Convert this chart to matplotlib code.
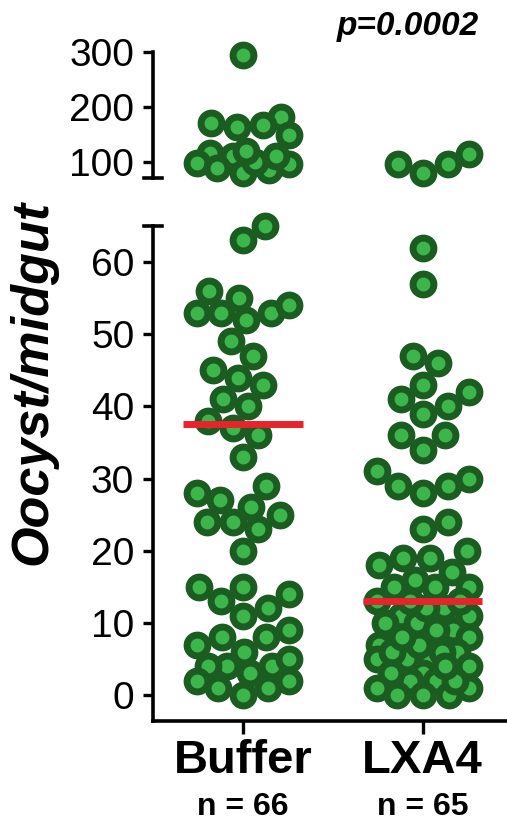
import matplotlib
matplotlib.use("Agg")
import matplotlib.pyplot as plt
import matplotlib.transforms as mtransforms
import numpy as np

plt.rcParams['font.family'] = ['Liberation Sans', 'DejaVu Sans']

# data (oocysts per midgut)
groups = ['Buffer', 'LXA4']
n_labels = ['n = 66', 'n = 65']
buffer_vals = [295, 182, 167, 149, 164, 170, 116, 110, 98, 89, 79, 85, 95, 100, 110, 119,
               63, 65, 55, 56, 53, 53, 54, 52, 53, 49, 47, 44, 45, 43, 41, 40, 38, 37, 36, 33,
               29, 27, 28, 25, 26, 24, 23, 24, 20,
               15, 15, 13, 14, 11, 12, 8, 9, 8, 7, 6, 3, 4, 4, 4, 1, 0, 2, 2, 1, 5]
lxa4_vals = [113, 95, 79, 95,
             62, 57, 46, 47, 42, 40, 39, 41, 43, 36, 34, 36,
             30, 29, 28, 29, 31, 24, 23, 18, 19, 20, 19, 17, 15, 15, 15, 13,
             12, 11, 10, 12, 11, 9, 8, 9, 7, 6, 5, 5, 5, 6, 4, 3, 2, 2, 0, 0, 0,
             13, 13, 10, 7, 6, 3, 1, 1, 2, 4, 8, 16]
p_text = 'p=0.0002'
low_ticks = [0, 10, 20, 30, 40, 50, 60]
high_ticks = [100, 200, 300]

face = '#3cb54a'
edge = '#1b5c21'
red = '#e8232b'
W, H = 507, 827

fig = plt.figure(figsize=(W / 100, H / 100), dpi=100)
ax_lo = fig.add_axes([153 / W, 1 - 721 / H, 354 / W, 495 / H])
ax_hi = fig.add_axes([153 / W, 1 - 178 / H, 354 / W, 126 / H])

ax_lo.set_ylim(-3.6, 65)
ax_hi.set_ylim(70, 300)
for a in (ax_lo, ax_hi):
    a.set_xlim(-0.5, 1.47)
    a.spines['top'].set_visible(False)
    a.spines['right'].set_visible(False)
    a.spines['left'].set_linewidth(2.6)
    a.tick_params(axis='y', length=7.5, width=2.4, pad=6, labelsize=28)
ax_lo.spines['bottom'].set_linewidth(2.6)
ax_hi.spines['bottom'].set_visible(False)
ax_hi.set_xticks([])
ax_lo.set_yticks(low_ticks)
ax_hi.set_yticks(high_ticks)
ax_lo.set_xticks(range(len(groups)))
ax_lo.set_xticklabels(groups, fontsize=34, fontweight='bold')
ax_lo.tick_params(axis='x', length=9, width=2.4, pad=4)

# break marks on the axis ends
dx = 9 / 354
ax_hi.plot([-dx, dx], [0, 0], transform=ax_hi.transAxes, color='black', lw=2.6, clip_on=False)
ax_lo.plot([-dx, dx], [1, 1], transform=ax_lo.transAxes, color='black', lw=2.6, clip_on=False)


def swarm(ypix, diam=26, max_off=46):
    # greedy beeswarm in pixel space
    cands = [0.0]
    for k in np.arange(1, max_off + 0.5, 1.0):
        cands += [k, -k]
    offs = np.zeros(len(ypix))
    placed = []
    for i in np.argsort(ypix):
        y = ypix[i]
        best, best_score = None, -1
        for c in cands:
            d = min((np.hypot(c - px, y - py) for px, py in placed), default=np.inf)
            if d >= diam:
                best = c
                break
            if d > best_score:
                best_score, best_c = d, c
        if best is None:
            best = best_c
        offs[i] = best
        placed.append((best, y))
    return offs


px_per_x = ax_lo.transData.transform((1, 0))[0] - ax_lo.transData.transform((0, 0))[0]
for gi, vals in enumerate([buffer_vals, lxa4_vals]):
    vals = np.array(vals, dtype=float)
    hi = vals >= 70
    ypix = np.where(hi,
                    ax_hi.transData.transform(np.c_[np.zeros_like(vals), np.clip(vals, 70, 300)])[:, 1],
                    ax_lo.transData.transform(np.c_[np.zeros_like(vals), np.clip(vals, -3, 65)])[:, 1])
    xs = gi + swarm(ypix) / px_per_x
    ax_lo.scatter(xs[~hi], vals[~hi], s=225, c=face, edgecolors=edge, linewidths=5, zorder=3, clip_on=False)
    ax_hi.scatter(xs[hi], vals[hi], s=225, c=face, edgecolors=edge, linewidths=5, zorder=3, clip_on=False)
    ax_lo.hlines(np.median(vals), gi - 0.333, gi + 0.333, color=red, lw=5, zorder=4)

trans = mtransforms.blended_transform_factory(ax_lo.transData, fig.transFigure)
for gi, lab in enumerate(n_labels):
    fig.text(gi, 1 - 807 / H, lab, transform=trans, ha='center', va='center',
             fontsize=23, fontweight='bold')

fig.text(33 / W, 1 - 382 / H, 'Oocyst/midgut', rotation=90, ha='center', va='center',
         fontsize=37.5, fontweight='bold', fontstyle='italic')
fig.text(408 / W, 1 - 27 / H, p_text, ha='center', va='center',
         fontsize=24, fontweight='bold', fontstyle='italic')

fig.savefig('out.png', dpi=100)
